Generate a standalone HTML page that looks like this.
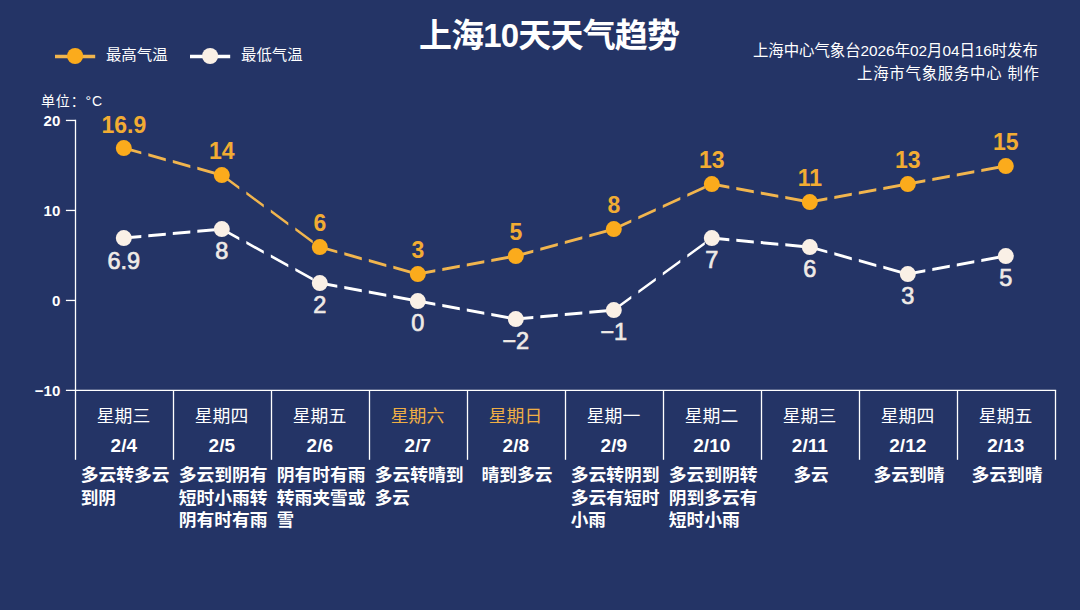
<!DOCTYPE html>
<html lang="zh-CN">
<head>
<meta charset="utf-8">
<title>上海10天天气趋势</title>
<style>
html,body{margin:0;padding:0;background:#243466;}
body{width:1080px;height:610px;overflow:hidden;font-family:"Liberation Sans","Noto Sans CJK SC",sans-serif;}
svg{display:block;}
svg text{font-family:"Liberation Sans","Noto Sans CJK SC",sans-serif;}
</style>
</head>
<body>
<svg width="1080" height="610" viewBox="0 0 1080 610">
<rect width="1080" height="610" fill="#243466"/>
<line x1="55" y1="56.5" x2="95.2" y2="56.5" stroke="#F1B54E" stroke-width="3.3"/>
<circle cx="75.1" cy="56" r="8.05" fill="#FBAB1C"/>
<line x1="190" y1="56.5" x2="230.2" y2="56.5" stroke="#FFFFFF" stroke-width="3.3"/>
<circle cx="210.1" cy="56" r="8.05" fill="#FAF0E6"/>
<line x1="75.5" y1="119.8" x2="75.5" y2="391.1" stroke="#FFFFFF" stroke-width="1.3"/>
<line x1="65.9" y1="390.45" x2="1056.15" y2="390.45" stroke="#FFFFFF" stroke-width="1.3"/>
<line x1="65.9" y1="120.45" x2="75.5" y2="120.45" stroke="#FFFFFF" stroke-width="1.3"/>
<line x1="65.9" y1="210.45" x2="75.5" y2="210.45" stroke="#FFFFFF" stroke-width="1.3"/>
<line x1="65.9" y1="300.45" x2="75.5" y2="300.45" stroke="#FFFFFF" stroke-width="1.3"/>
<line x1="75.5" y1="390.45" x2="75.5" y2="459.8" stroke="#FFFFFF" stroke-width="1.3"/>
<line x1="173.5" y1="390.45" x2="173.5" y2="459.8" stroke="#FFFFFF" stroke-width="1.3"/>
<line x1="271.5" y1="390.45" x2="271.5" y2="459.8" stroke="#FFFFFF" stroke-width="1.3"/>
<line x1="369.5" y1="390.45" x2="369.5" y2="459.8" stroke="#FFFFFF" stroke-width="1.3"/>
<line x1="467.5" y1="390.45" x2="467.5" y2="459.8" stroke="#FFFFFF" stroke-width="1.3"/>
<line x1="565.5" y1="390.45" x2="565.5" y2="459.8" stroke="#FFFFFF" stroke-width="1.3"/>
<line x1="663.5" y1="390.45" x2="663.5" y2="459.8" stroke="#FFFFFF" stroke-width="1.3"/>
<line x1="761.5" y1="390.45" x2="761.5" y2="459.8" stroke="#FFFFFF" stroke-width="1.3"/>
<line x1="859.5" y1="390.45" x2="859.5" y2="459.8" stroke="#FFFFFF" stroke-width="1.3"/>
<line x1="957.5" y1="390.45" x2="957.5" y2="459.8" stroke="#FFFFFF" stroke-width="1.3"/>
<line x1="1055.5" y1="390.45" x2="1055.5" y2="459.8" stroke="#FFFFFF" stroke-width="1.3"/>
<g transform="scale(1 8)" stroke="#F1B54E" stroke-width="0.375" fill="none"><line x1="123.8" y1="18.506" x2="221.8" y2="21.881" stroke-dasharray="17.53 6.99"/><line x1="221.8" y1="21.881" x2="319.8" y2="30.881" stroke-dasharray="17.59 7.01"/><line x1="319.8" y1="30.881" x2="417.8" y2="34.256" stroke-dasharray="17.53 6.99"/><line x1="417.8" y1="34.256" x2="515.8" y2="32.006" stroke-dasharray="17.52 6.98"/><line x1="515.8" y1="32.006" x2="613.8" y2="28.631" stroke-dasharray="17.53 6.99"/><line x1="613.8" y1="28.631" x2="711.8" y2="23.006" stroke-dasharray="17.55 6.99"/><line x1="711.8" y1="23.006" x2="809.8" y2="25.256" stroke-dasharray="17.52 6.98"/><line x1="809.8" y1="25.256" x2="907.8" y2="23.006" stroke-dasharray="17.52 6.98"/><line x1="907.8" y1="23.006" x2="1005.8" y2="20.756" stroke-dasharray="17.52 6.98"/></g>
<circle cx="123.8" cy="148.05" r="8" fill="#FBAB1C"/>
<circle cx="221.8" cy="175.05" r="8" fill="#FBAB1C"/>
<circle cx="319.8" cy="247.05" r="8" fill="#FBAB1C"/>
<circle cx="417.8" cy="274.05" r="8" fill="#FBAB1C"/>
<circle cx="515.8" cy="256.05" r="8" fill="#FBAB1C"/>
<circle cx="613.8" cy="229.05" r="8" fill="#FBAB1C"/>
<circle cx="711.8" cy="184.05" r="8" fill="#FBAB1C"/>
<circle cx="809.8" cy="202.05" r="8" fill="#FBAB1C"/>
<circle cx="907.8" cy="184.05" r="8" fill="#FBAB1C"/>
<circle cx="1005.8" cy="166.05" r="8" fill="#FBAB1C"/>
<g transform="scale(1 8)" stroke="#FFFFFF" stroke-width="0.375" fill="none"><line x1="123.8" y1="29.756" x2="221.8" y2="28.631" stroke-dasharray="17.52 6.98"/><line x1="221.8" y1="28.631" x2="319.8" y2="35.381" stroke-dasharray="17.56 7"/><line x1="319.8" y1="35.381" x2="417.8" y2="37.631" stroke-dasharray="17.52 6.98"/><line x1="417.8" y1="37.631" x2="515.8" y2="39.881" stroke-dasharray="17.52 6.98"/><line x1="515.8" y1="39.881" x2="613.8" y2="38.756" stroke-dasharray="17.52 6.98"/><line x1="613.8" y1="38.756" x2="711.8" y2="29.756" stroke-dasharray="17.59 7.01"/><line x1="711.8" y1="29.756" x2="809.8" y2="30.881" stroke-dasharray="17.52 6.98"/><line x1="809.8" y1="30.881" x2="907.8" y2="34.256" stroke-dasharray="17.53 6.99"/><line x1="907.8" y1="34.256" x2="1005.8" y2="32.006" stroke-dasharray="17.52 6.98"/></g>
<circle cx="123.8" cy="238.05" r="8" fill="#FAF0E6"/>
<circle cx="221.8" cy="229.05" r="8" fill="#FAF0E6"/>
<circle cx="319.8" cy="283.05" r="8" fill="#FAF0E6"/>
<circle cx="417.8" cy="301.05" r="8" fill="#FAF0E6"/>
<circle cx="515.8" cy="319.05" r="8" fill="#FAF0E6"/>
<circle cx="613.8" cy="310.05" r="8" fill="#FAF0E6"/>
<circle cx="711.8" cy="238.05" r="8" fill="#FAF0E6"/>
<circle cx="809.8" cy="247.05" r="8" fill="#FAF0E6"/>
<circle cx="907.8" cy="274.05" r="8" fill="#FAF0E6"/>
<circle cx="1005.8" cy="256.05" r="8" fill="#FAF0E6"/>
<g class="t" fill="#FFFFFF">
<text x="419" y="47" font-size="33" font-weight="bold" textLength="261">上海10天天气趋势</text>
<text x="105.9" y="59.9" font-size="15" textLength="61.7" lengthAdjust="spacingAndGlyphs">最高气温</text>
<text x="241.1" y="59.9" font-size="15" textLength="61.4" lengthAdjust="spacingAndGlyphs">最低气温</text>
<text x="753" y="55.9" font-size="15.4" textLength="285">上海中心气象台2026年02月04日16时发布</text>
<text x="857" y="78.7" font-size="15.4" textLength="182">上海市气象服务中心 制作</text>
<text x="41" y="105.5" font-size="14" textLength="61">单位：°C</text>
<g font-size="15" font-weight="bold" text-anchor="end">
<text x="60.3" y="125.75">20</text>
<text x="60.3" y="215.75">10</text>
<text x="60.3" y="305.75">0</text>
<text x="60.3" y="395.75">−10</text>
</g>
<g font-size="23" font-weight="bold" fill="#F2AC33" text-anchor="middle">
<text x="123.8" y="133.05">16.9</text>
<text x="221.8" y="159.15">14</text>
<text x="319.8" y="231.15">6</text>
<text x="417.8" y="258.15">3</text>
<text x="515.8" y="240.15">5</text>
<text x="613.8" y="213.15">8</text>
<text x="711.8" y="168.15">13</text>
<text x="809.8" y="186.15">11</text>
<text x="907.8" y="168.15">13</text>
<text x="1005.8" y="150.15">15</text>
</g>
<g font-size="23.5" fill="#EFEAE6" stroke="#EFEAE6" stroke-width="0.7" text-anchor="middle">
<text x="123.8" y="268.55">6.9</text>
<text x="221.8" y="258.65">8</text>
<text x="319.8" y="312.65">2</text>
<text x="417.8" y="330.65">0</text>
<text x="515.8" y="348.65">−2</text>
<text x="613.8" y="339.65">−1</text>
<text x="711.8" y="267.65">7</text>
<text x="809.8" y="276.65">6</text>
<text x="907.8" y="303.65">3</text>
<text x="1005.8" y="285.65">5</text>
</g>
<text x="96.75" y="422" font-size="16.8" textLength="53.5" lengthAdjust="spacingAndGlyphs">星期三</text>
<text x="123.8" y="451.9" font-size="19" font-weight="bold" text-anchor="middle">2/4</text>
<text x="80.65" y="481" font-size="17.3" font-weight="bold" textLength="88.9" lengthAdjust="spacingAndGlyphs">多云转多云</text>
<text x="80.65" y="503.7" font-size="17.3" font-weight="bold" textLength="35.2" lengthAdjust="spacingAndGlyphs">到阴</text>
<text x="194.75" y="422" font-size="16.8" textLength="53.5" lengthAdjust="spacingAndGlyphs">星期四</text>
<text x="221.8" y="451.9" font-size="19" font-weight="bold" text-anchor="middle">2/5</text>
<text x="178.65" y="481" font-size="17.3" font-weight="bold" textLength="88.9" lengthAdjust="spacingAndGlyphs">多云到阴有</text>
<text x="178.65" y="503.7" font-size="17.3" font-weight="bold" textLength="88.9" lengthAdjust="spacingAndGlyphs">短时小雨转</text>
<text x="178.65" y="526.4" font-size="17.3" font-weight="bold" textLength="88.9" lengthAdjust="spacingAndGlyphs">阴有时有雨</text>
<text x="292.75" y="422" font-size="16.8" textLength="53.5" lengthAdjust="spacingAndGlyphs">星期五</text>
<text x="319.8" y="451.9" font-size="19" font-weight="bold" text-anchor="middle">2/6</text>
<text x="276.65" y="481" font-size="17.3" font-weight="bold" textLength="88.9" lengthAdjust="spacingAndGlyphs">阴有时有雨</text>
<text x="276.65" y="503.7" font-size="17.3" font-weight="bold" textLength="88.9" lengthAdjust="spacingAndGlyphs">转雨夹雪或</text>
<text x="276.65" y="526.4" font-size="17.3" font-weight="bold" textLength="17.3" lengthAdjust="spacingAndGlyphs">雪</text>
<text x="390.75" y="422" font-size="16.8" fill="#EFAE45" textLength="53.5" lengthAdjust="spacingAndGlyphs">星期六</text>
<text x="417.8" y="451.9" font-size="19" font-weight="bold" text-anchor="middle">2/7</text>
<text x="374.65" y="481" font-size="17.3" font-weight="bold" textLength="88.9" lengthAdjust="spacingAndGlyphs">多云转晴到</text>
<text x="374.65" y="503.7" font-size="17.3" font-weight="bold" textLength="35.2" lengthAdjust="spacingAndGlyphs">多云</text>
<text x="488.75" y="422" font-size="16.8" fill="#EFAE45" textLength="53.5" lengthAdjust="spacingAndGlyphs">星期日</text>
<text x="515.8" y="451.9" font-size="19" font-weight="bold" text-anchor="middle">2/8</text>
<text x="481.6" y="481" font-size="17.3" font-weight="bold" textLength="71" lengthAdjust="spacingAndGlyphs">晴到多云</text>
<text x="586.75" y="422" font-size="16.8" textLength="53.5" lengthAdjust="spacingAndGlyphs">星期一</text>
<text x="613.8" y="451.9" font-size="19" font-weight="bold" text-anchor="middle">2/9</text>
<text x="570.65" y="481" font-size="17.3" font-weight="bold" textLength="88.9" lengthAdjust="spacingAndGlyphs">多云转阴到</text>
<text x="570.65" y="503.7" font-size="17.3" font-weight="bold" textLength="88.9" lengthAdjust="spacingAndGlyphs">多云有短时</text>
<text x="570.65" y="526.4" font-size="17.3" font-weight="bold" textLength="35.2" lengthAdjust="spacingAndGlyphs">小雨</text>
<text x="684.75" y="422" font-size="16.8" textLength="53.5" lengthAdjust="spacingAndGlyphs">星期二</text>
<text x="711.8" y="451.9" font-size="19" font-weight="bold" text-anchor="middle">2/10</text>
<text x="668.65" y="481" font-size="17.3" font-weight="bold" textLength="88.9" lengthAdjust="spacingAndGlyphs">多云到阴转</text>
<text x="668.65" y="503.7" font-size="17.3" font-weight="bold" textLength="88.9" lengthAdjust="spacingAndGlyphs">阴到多云有</text>
<text x="668.65" y="526.4" font-size="17.3" font-weight="bold" textLength="71" lengthAdjust="spacingAndGlyphs">短时小雨</text>
<text x="782.75" y="422" font-size="16.8" textLength="53.5" lengthAdjust="spacingAndGlyphs">星期三</text>
<text x="809.8" y="451.9" font-size="19" font-weight="bold" text-anchor="middle">2/11</text>
<text x="793.5" y="481" font-size="17.3" font-weight="bold" textLength="35.2" lengthAdjust="spacingAndGlyphs">多云</text>
<text x="880.75" y="422" font-size="16.8" textLength="53.5" lengthAdjust="spacingAndGlyphs">星期四</text>
<text x="907.8" y="451.9" font-size="19" font-weight="bold" text-anchor="middle">2/12</text>
<text x="873.6" y="481" font-size="17.3" font-weight="bold" textLength="71" lengthAdjust="spacingAndGlyphs">多云到晴</text>
<text x="978.75" y="422" font-size="16.8" textLength="53.5" lengthAdjust="spacingAndGlyphs">星期五</text>
<text x="1005.8" y="451.9" font-size="19" font-weight="bold" text-anchor="middle">2/13</text>
<text x="971.6" y="481" font-size="17.3" font-weight="bold" textLength="71" lengthAdjust="spacingAndGlyphs">多云到晴</text>
</g>
</svg>
</body>
</html>
